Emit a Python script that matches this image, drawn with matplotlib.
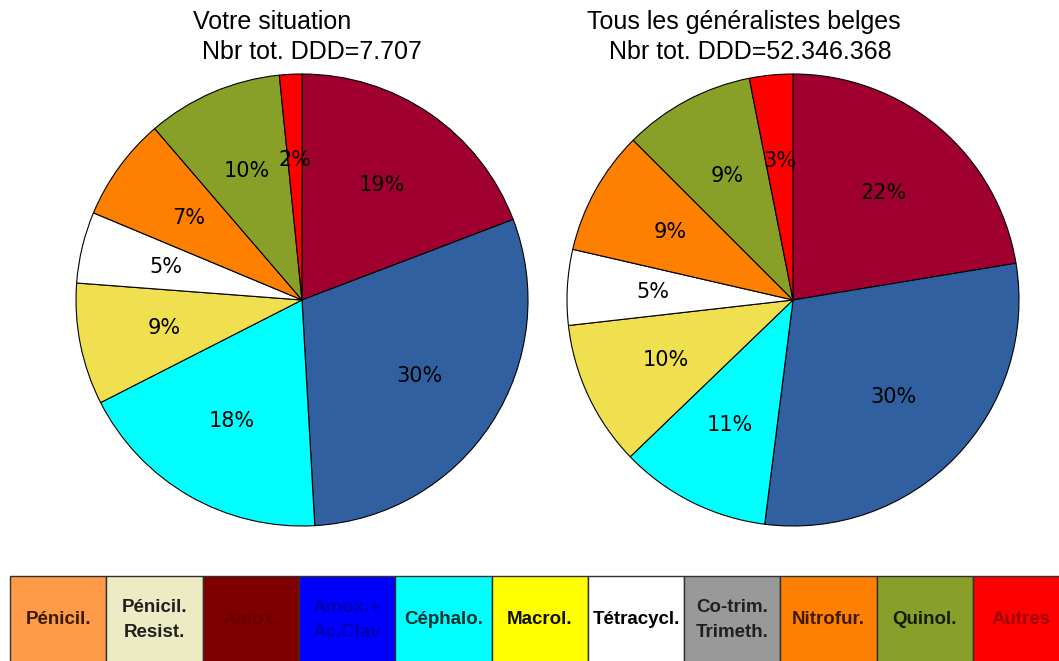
import matplotlib
matplotlib.use('Agg')
import matplotlib.pyplot as plt
from matplotlib.patches import Rectangle

# pie slices, clockwise from top
pieColors = ['#A00030', '#3060A0', '#00FFFF', '#F0E050', '#FFFFFF', '#FF8000', '#88A028', '#FF0000']
votreValues = [19.2, 29.9, 18.4, 8.7, 5.1, 7.4, 9.7, 1.6]
belgesValues = [22.4, 29.6, 10.8, 10.4, 5.4, 8.9, 9.4, 3.1]

# legend strip at the bottom
legendLabels = ['Pénicil.', 'Pénicil.\nResist.', 'Amox.', 'Amox.+\nAc.Clav', 'Céphalo.', 'Macrol.',
                'Tétracycl.', 'Co-trim.\nTrimeth.', 'Nitrofur.', 'Quinol.', 'Autres']
legendColors = ['#FF9A48', '#EDEBC3', '#800000', '#0000FF', '#00FFFF', '#FFFF00',
                '#FFFFFF', '#999999', '#FF8000', '#8A9F2A', '#FF0000']
legendTextColors = ['#3A1A00', '#202020', '#6A0000', '#0000B0', '#103030', '#101000',
                    '#000000', '#202020', '#401A00', '#102000', '#A00000']

W, H = 1059, 661
fig = plt.figure(figsize=(W / 100, H / 100), dpi=100)


def drawPie(left, values):
    ax = fig.add_axes([left / W, (H - 526) / H, 452 / W, 452 / H])
    ax.pie(values, colors=pieColors, startangle=90, counterclock=False,
           autopct=lambda p: '%d%%' % round(p), pctdistance=0.62,
           wedgeprops=dict(edgecolor='black', linewidth=0.8),
           textprops=dict(fontsize=15, family='DejaVu Sans', color='black'))
    ax.set_xlim(-1.0, 1.0)
    ax.set_ylim(-1.0, 1.0)
    ax.set_aspect('equal')
    ax.axis('off')


drawPie(76, votreValues)
drawPie(567, belgesValues)

titleFont = dict(fontsize=18, family='Liberation Sans', va='baseline', ha='left')
fig.text(193 / W, 1 - 29 / H, 'Votre situation', **titleFont)
fig.text(202 / W, 1 - 59 / H, 'Nbr tot. DDD=7.707', **titleFont)
fig.text(587 / W, 1 - 29 / H, 'Tous les généralistes belges', **titleFont)
fig.text(609 / W, 1 - 59 / H, 'Nbr tot. DDD=52.346.368', **titleFont)

# legend boxes
lax = fig.add_axes([10 / W, 0, 1 - 10 / W, 86 / H])
n = len(legendLabels)
boxW = 96.3
total = (W - 10) / boxW
lax.set_xlim(0, total)
lax.set_ylim(0, 1)
lax.axis('off')
for i in range(n):
    lax.add_patch(Rectangle((i, -0.05), 1, 1.04, facecolor=legendColors[i],
                            edgecolor='#303030', linewidth=1.0, clip_on=False))
    lax.text(i + 0.5, 0.48, legendLabels[i], ha='center', va='center',
             fontsize=13.5, fontweight='bold', family='Liberation Sans',
             color=legendTextColors[i], linespacing=1.6)

fig.savefig('out.png', dpi=100, facecolor='white')
